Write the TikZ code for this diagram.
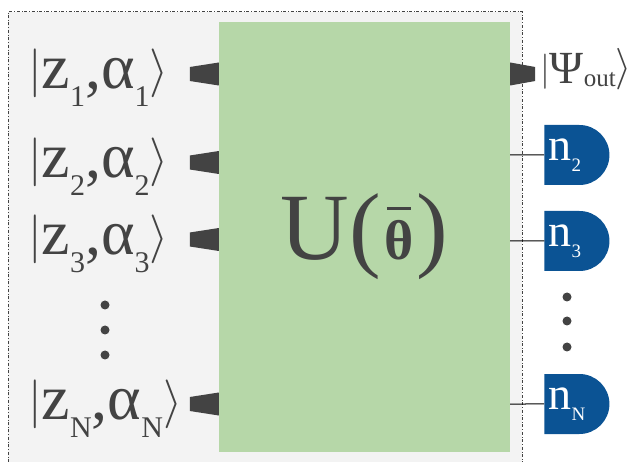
\documentclass[tikz,border=0pt]{standalone}
\usepackage{graphicx}
\usepackage{fontspec}
\setmainfont{Liberation Serif}
\usepackage{tikz}
\usetikzlibrary{shapes.misc,positioning}

\definecolor{textgray}{HTML}{434343}
\definecolor{boxgreen}{HTML}{B6D7A8}
\definecolor{bggray}{HTML}{F3F3F3}
\definecolor{detblue}{HTML}{0B5394}

% bar and bracket of a ket, scaled up from 20pt
\newcommand{\kl}[1]{\scalebox{#1}{\fontsize{20}{20}\selectfont$|$}}
\newcommand{\kr}[1]{\scalebox{#1}{\fontsize{20}{20}\selectfont$\rangle$}}
% subscript and ket for the input modes
\newcommand{\lsub}[1]{\raisebox{-18pt}{\fontsize{30}{30}\selectfont #1}}
\newcommand{\zlab}[1]{\raisebox{3pt}{\kl{2.35}}z\lsub{#1},α\lsub{#1}\raisebox{3pt}{\kr{2.35}}}
\newcommand{\dsub}[1]{\raisebox{-11pt}{\fontsize{19}{19}\selectfont #1}}
\newcommand{\dlab}[1]{\makebox[0pt][l]{\hspace{-26pt}n\dsub{#1}}}
% theta with a bar
\newsavebox{\thbox}
\newcommand{\thbar}{\sbox{\thbox}{θ}\makebox[0pt][l]{\makebox[\wd\thbox]{\rule[\dimexpr\ht\thbox+11pt\relax]{24pt}{3pt}}}\usebox{\thbox}}

\tikzset{
  inlab/.style={anchor=base west, inner sep=0pt, text=textgray, font=\fontsize{64}{64}\selectfont},
  ubox/.style={fill=boxgreen, minimum width=291pt, minimum height=430pt, inner sep=0pt, text=textgray, font=\fontsize{95}{95}\selectfont},
  det/.style={rounded rectangle, rounded rectangle left arc=none, fill=detblue, text=white, minimum width=65pt, minimum height=60pt, inner sep=0pt, font=\fontsize{46}{46}\selectfont},
  wedge/.style={fill=textgray},
  vdot/.style={fill=textgray}
}

\begin{document}
\begin{tikzpicture}[x=1pt, y=-1pt, node distance=2cm, on grid]
   \useasboundingbox (0,0) rectangle (632,462);
   % frame
   \fill[bggray] (8,12) rectangle (522,462);
   \draw[textgray, dash dot, line width=1pt] (8,462) -- (8,12) -- (522,12) -- (522,462);

   \node[ubox] (U) at (364.5,237) {\raisebox{-7pt}{U(\kern3pt{\fontsize{56}{56}\selectfont\bfseries\thbar}\kern3pt)}};

   % input modes
   \foreach \name/\y in {1/74, 2/162.5, 3/239.5, N/404} {
     \node[inlab] (in\name) at (28,\y+15) {\zlab{\name}};
     \fill[wedge] (U.west |- 0,\y) ++(0,-11.5) -- ++(0,23) -- ++(-29,-4.5) -- ++(0,-14) -- cycle;
   }
   \foreach \y in {305,330,355} \fill[vdot] (105,\y) circle (4.5);

   % output mode
   \fill[wedge] (U.east |- 0,74) ++(0,-11.5) -- ++(0,23) -- ++(25,-4.5) -- ++(0,-14) -- cycle;
   \node[inlab, font=\fontsize{46}{46}\selectfont] (out) at (540,84)
     {\raisebox{3pt}{\kl{1.7}}Ψ\raisebox{-3pt}{\fontsize{25}{25}\selectfont out}\raisebox{4pt}{\kr{2}}};

   % detectors
   \node[det] (d2) at (574.5,155) {\dlab{2}};
   \node[det] (d3) [below=86pt of d2] {\dlab{3}};
   \node[det] (dN) [below=163pt of d3] {\dlab{N}};
   \foreach \d in {d2,d3,dN} \draw[line width=1pt] (U.east |- \d) -- (\d);
   \foreach \y in {297,321,347} \fill[vdot] (567,\y) circle (4.5);
\end{tikzpicture}
\end{document}
